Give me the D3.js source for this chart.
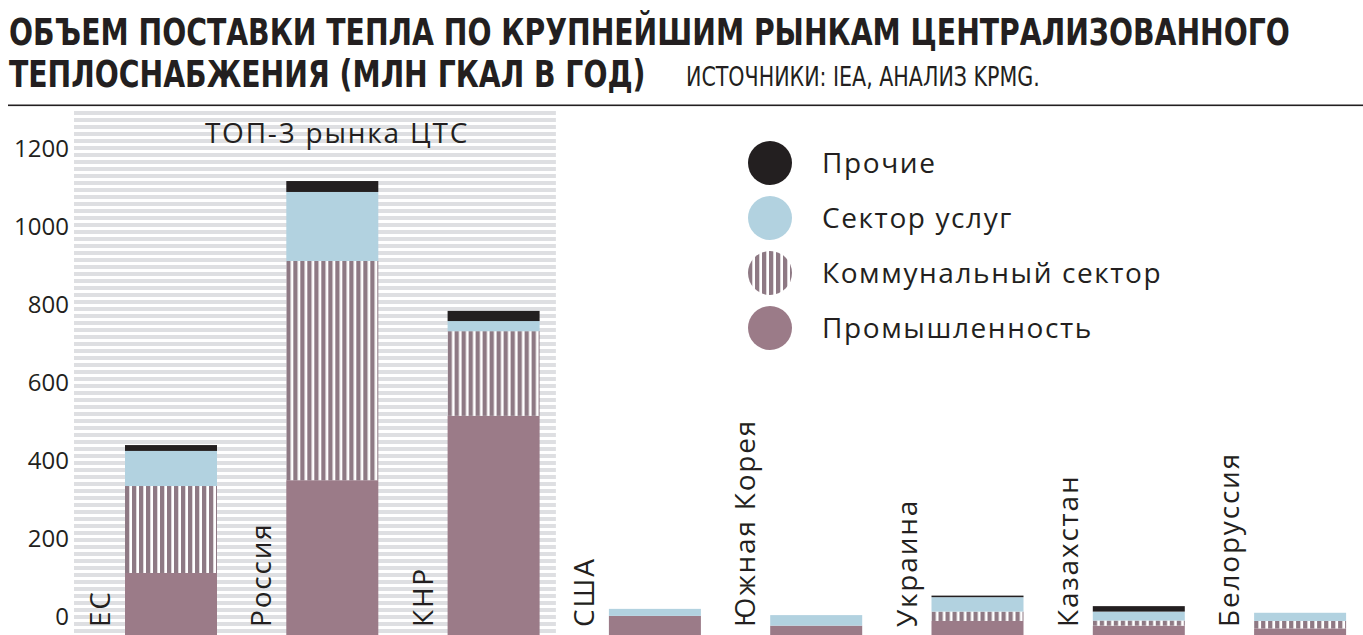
<!DOCTYPE html>
<html><head><meta charset="utf-8">
<script src="https://cdn.jsdelivr.net/npm/d3@7"></script>
<style>
html,body{margin:0;padding:0;background:#fff;}
svg{display:block;}
</style></head>
<body>
<svg id="chart" width="1363" height="635"></svg>
<script>
const countries = ["ЕС","Россия","КНР","США","Южная Корея","Украина","Казахстан","Белоруссия"];
const industry  = [159, 397, 562, 49, 24, 36, 24, 17];
const communal  = [223, 562, 217,  0,  0, 24, 13, 19];
const services  = [ 90, 177,  26, 18, 27, 37, 23, 21];
const other     = [ 15,  28,  26,  0,  0,  4, 14,  0];
const seriesKeys = ["industry","communal","services","other"];
const legendLabels = ["Прочие","Сектор услуг","Коммунальный сектор","Промышленность"];
const legendKeys = ["other","services","communal","industry"];
const yTicks = [0,200,400,600,800,1000,1200];
const titleLines = ["ОБЪЕМ ПОСТАВКИ ТЕПЛА ПО КРУПНЕЙШИМ РЫНКАМ ЦЕНТРАЛИЗОВАННОГО","ТЕПЛОСНАБЖЕНИЯ (МЛН ГКАЛ В ГОД)"];
const sourceText = "ИСТОЧНИКИ: IEA, АНАЛИЗ KPMG.";
const top3Label = "ТОП-3 рынка ЦТС";

const colors = {industry:"#9b7b88", communal:"#8e7984", services:"#b2d2e0", other:"#231f20"};
const textColor = "#231f20";
const bodyFont = "'Open Sans', 'Liberation Sans', Arial, sans-serif";
const bodyWeight = 400;
const titleFont = "'Liberation Sans Narrow', 'DejaVu Sans Condensed', sans-serif";

const data = countries.map((c,i)=>({country:c, industry:industry[i], communal:communal[i], services:services[i], other:other[i]}));
const stacked = d3.stack().keys(seriesKeys)(data);

const svg = d3.select("#chart");
const W = 1363, H = 635;
const defs = svg.append("defs");

const x = d3.scaleBand().domain(countries).range([74, 1364.4]).paddingInner(0).paddingOuter(0);
const barOffset = 51, barW = 92;
const y = d3.scaleLinear().domain([0, 1200]).range([635, 167]);

// background stripes pattern
const bg = defs.append("pattern").attr("id","bgstripes").attr("patternUnits","userSpaceOnUse")
  .attr("width",10).attr("height",7).attr("y",111);
bg.append("rect").attr("width",10).attr("height",4).attr("fill","#dedfe2");

// title: condensed horizontally to the measured width
function condensed(sel, x0, y0, target){
  sel.attr("transform",`translate(${x0},${y0})`);
  const w = sel.node().getComputedTextLength();
  sel.attr("transform",`translate(${x0},${y0}) scale(${target / w},1)`);
}
const title = svg.append("text")
  .attr("font-family",titleFont).attr("font-weight","bold").attr("font-size",37).attr("fill",textColor);
title.selectAll("tspan").data(titleLines).join("tspan")
  .attr("x",0).attr("y",(d,i)=>i*42).text(d=>d);
{
  const w1 = title.select("tspan").node().getComputedTextLength();
  title.attr("transform",`translate(9,45) scale(${1281 / w1},1)`);
}
svg.append("text")
  .attr("font-family",titleFont).attr("font-size",27).attr("fill",textColor).text(sourceText)
  .call(condensed, 686, 86, 354);
svg.append("rect").attr("x",8).attr("y",104.5).attr("width",W-8).attr("height",1.6).attr("fill",textColor);

// top-3 background
const top3 = countries.slice(0,3);
const bgX0 = x(top3[0]), bgX1 = x(top3[2]) + x.bandwidth() - 2;
svg.append("rect").attr("x",bgX0).attr("y",111).attr("width",bgX1-bgX0).attr("height",H-111).attr("fill","url(#bgstripes)");
svg.append("text").attr("x",337).attr("y",143).attr("text-anchor","middle")
  .attr("font-family",bodyFont).attr("font-weight",bodyWeight).attr("font-size",28).attr("letter-spacing",1.8)
  .attr("fill",textColor).text(top3Label);

// y axis labels
const yAxis = d3.axisLeft(y).tickValues(yTicks).tickFormat(d3.format("d")).tickSize(0).tickPadding(0);
const ga = svg.append("g").attr("transform","translate(69,-19)").call(yAxis);
ga.select(".domain").remove();
ga.selectAll("text").attr("font-family",bodyFont).attr("font-weight",bodyWeight).attr("font-size",24).attr("fill",textColor).attr("dy","0.35em");

// hatch patterns per bar
countries.forEach((c,i)=>{
  const p = defs.append("pattern").attr("id","hatch"+i).attr("patternUnits","userSpaceOnUse")
    .attr("x", x(c)+barOffset).attr("width",7).attr("height",10);
  p.append("rect").attr("width",7).attr("height",10).attr("fill",colors.communal);
  p.append("rect").attr("x",4.3).attr("width",2.7).attr("height",10).attr("fill","#fff");
});

// bars
const gBars = svg.append("g");
stacked.forEach(layer=>{
  gBars.append("g").selectAll("rect").data(layer).join("rect")
    .attr("x",d=>x(d.data.country)+barOffset)
    .attr("width",barW)
    .attr("y",d=>y(d[1]))
    .attr("height",d=>Math.max(0,y(d[0])-y(d[1])))
    .attr("fill",(d,i)=> layer.key==="communal" ? `url(#hatch${i})` : colors[layer.key]);
});

// country labels (rotated)
svg.append("g").selectAll("text").data(countries).join("text")
  .attr("transform",d=>`translate(${x(d)+barOffset-15},627) rotate(-90)`)
  .attr("font-family",bodyFont).attr("font-weight",bodyWeight).attr("font-size",28).attr("letter-spacing",1.8)
  .attr("fill",textColor).text(d=>d);

// legend
const lp = defs.append("pattern").attr("id","hatchLegend").attr("patternUnits","userSpaceOnUse")
  .attr("x",748).attr("width",7).attr("height",10);
lp.append("rect").attr("width",7).attr("height",10).attr("fill",colors.communal);
lp.append("rect").attr("x",4.3).attr("width",2.7).attr("height",10).attr("fill","#fff");

const lg = svg.append("g").selectAll("g").data(legendKeys).join("g")
  .attr("transform",(d,i)=>`translate(770,${163+i*55})`);
lg.append("circle").attr("r",22).attr("fill",d=> d==="communal" ? "url(#hatchLegend)" : colors[d]);
lg.append("text").attr("x",52).attr("dy","0.35em").attr("font-family",bodyFont).attr("font-weight",bodyWeight).attr("font-size",28).attr("letter-spacing",1.6)
  .attr("fill",textColor).text((d,i)=>legendLabels[i]);
</script>
</body></html>
